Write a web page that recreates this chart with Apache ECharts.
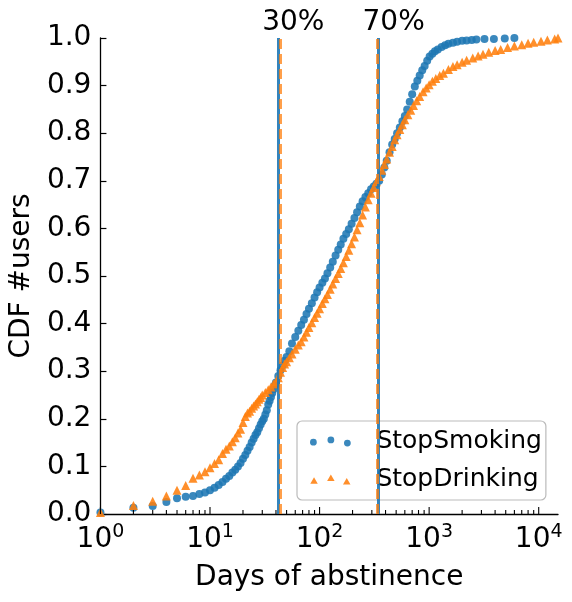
<!DOCTYPE html>
<html><head><meta charset="utf-8">
<script src="https://cdn.jsdelivr.net/npm/echarts@6/dist/echarts.min.js"></script>
<style>html,body{margin:0;padding:0;background:#fff}#c{width:572px;height:602px}</style>
</head><body><div id="c"></div>
<script>
const smokingDays = [1,2,3,4,5,6,7,8,9,10,11,12,13,14,15,16,17,18,19,20,21,22,23,24,25,26,27,28,29,30,31,32,33,34,35,36,37,38,39,40,42,44,46,48,50,53,56,60,64,68,72,76,80,85,90,95,100,106,112,118,125,132,140,148,156,165,175,185,196,208,220,233,247,262,278,295,312,330,350,370,390,410,435,460,485,510,540,570,600,630,665,700,740,780,820,865,910,960,1010,1070,1130,1200,1300,1400,1500,1650,1800,2000,2200,2450,2700,3200,3900,4900,6000];
const smokingCdf = [0.003,0.013,0.017,0.025,0.033,0.036,0.038,0.042,0.045,0.050,0.055,0.061,0.067,0.074,0.080,0.087,0.093,0.100,0.107,0.116,0.124,0.133,0.141,0.150,0.158,0.166,0.172,0.180,0.188,0.195,0.200,0.209,0.218,0.230,0.238,0.246,0.254,0.262,0.270,0.276,0.290,0.302,0.312,0.322,0.330,0.342,0.358,0.372,0.385,0.397,0.408,0.420,0.431,0.443,0.455,0.466,0.476,0.486,0.495,0.506,0.518,0.530,0.543,0.555,0.566,0.578,0.588,0.598,0.610,0.622,0.634,0.646,0.657,0.666,0.674,0.682,0.688,0.694,0.700,0.713,0.728,0.742,0.760,0.776,0.788,0.800,0.812,0.825,0.836,0.850,0.866,0.882,0.898,0.910,0.921,0.932,0.941,0.952,0.961,0.967,0.972,0.976,0.981,0.985,0.988,0.990,0.992,0.994,0.995,0.996,0.997,0.998,0.998,0.999,1.000];
const drinkingDays = [1,2,3,4,5,6,7,8,9,10,11,12,13,14,15,16,17,18,19,20,21,22,23,24,25,26,27,28,29,30,32,34,36,38,40,42,44,46,48,50,53,56,60,64,68,72,76,80,85,90,95,100,106,112,118,125,132,140,148,156,165,175,185,196,208,220,233,247,262,278,295,312,330,350,370,390,410,435,460,485,510,540,570,600,640,680,720,770,820,880,940,1000,1070,1150,1250,1350,1500,1650,1800,2000,2200,2500,2800,3100,3500,4000,4500,5200,6000,7000,8000,9000,10500,12000,14000,15000];
const drinkingCdf = [0.003,0.018,0.027,0.038,0.050,0.060,0.075,0.082,0.089,0.097,0.106,0.114,0.127,0.136,0.143,0.152,0.160,0.170,0.178,0.192,0.205,0.212,0.216,0.222,0.227,0.231,0.236,0.241,0.245,0.250,0.255,0.261,0.267,0.273,0.278,0.286,0.298,0.308,0.315,0.320,0.328,0.336,0.346,0.355,0.362,0.372,0.382,0.392,0.402,0.413,0.422,0.431,0.442,0.452,0.461,0.472,0.483,0.495,0.505,0.516,0.528,0.541,0.554,0.568,0.582,0.597,0.612,0.628,0.645,0.660,0.674,0.686,0.698,0.709,0.722,0.734,0.746,0.760,0.772,0.786,0.797,0.808,0.818,0.828,0.839,0.848,0.858,0.868,0.877,0.887,0.895,0.902,0.909,0.915,0.921,0.926,0.934,0.940,0.944,0.949,0.953,0.958,0.962,0.966,0.970,0.974,0.976,0.980,0.983,0.986,0.989,0.991,0.993,0.996,0.998,1.000];
const pct30 = {label:'30%', smoking:42, drinking:44};
const pct70 = {label:'70%', smoking:346, drinking:334};
const xMax = 15000;

const BLUE = '#1f77b4', ORANGE = '#ff7f0e';
const FONT = 'DejaVu Sans';
const xTicks = [];
for (let e = 0; e <= 4; e++) for (let m = 1; m <= 9; m++) { const v = m * Math.pow(10, e); if (v <= xMax) xTicks.push([v, m === 1 ? 1 : 0]); }

const zip = (a, b) => a.map((v, i) => [v, b[i]]);
const circlesPath = 'path://M0,5.8 a3.5,3.5 0 1,0 7,0 a3.5,3.5 0 1,0 -7,0 Z M18,3.5 a3.5,3.5 0 1,0 7,0 a3.5,3.5 0 1,0 -7,0 Z M35,6.8 a3.5,3.5 0 1,0 7,0 a3.5,3.5 0 1,0 -7,0 Z';
const triPath = 'path://M0,10 L4,3 L8,10 Z M18,7 L22,0 L26,7 Z M35,10.7 L39,3.7 L43,10.7 Z';

const chart = echarts.init(document.getElementById('c'), null, {renderer:'canvas'});
chart.setOption({
  animation: false,
  grid: {left: 98, right: 14, top: 38, bottom: 88},
  xAxis: {
    type: 'log', logBase: 10, min: 1, max: xMax,
    name: 'Days of abstinence', nameLocation: 'middle', nameGap: 50,
    nameTextStyle: {fontSize: 28, fontFamily: FONT, color: '#000'},
    axisLine: {lineStyle: {color: '#000', width: 1.3}},
    axisTick: {show: false},
    splitLine: {show: false},
    axisLabel: {
      margin: 9, color: '#000',
      formatter: function (v) {
        const e = Math.log10(v);
        if (Math.abs(e - Math.round(e)) > 1e-6) return '';
        return '{b|10}{s|' + Math.round(e) + '}';
      },
      rich: {
        b: {fontSize: 28, fontFamily: FONT, color: '#000', lineHeight: 33},
        s: {fontSize: 19, fontFamily: FONT, color: '#000', lineHeight: 19, verticalAlign: 'top'}
      }
    }
  },
  yAxis: {
    type: 'value', min: 0, max: 1, interval: 0.1,
    name: 'CDF #users', nameLocation: 'middle', nameGap: 53,
    nameTextStyle: {fontSize: 28, fontFamily: FONT, color: '#000'},
    axisLine: {show: true, lineStyle: {color: '#000', width: 1.3}},
    axisTick: {show: true, inside: true, length: 6, lineStyle: {color: '#000', width: 1.2}},
    splitLine: {show: false},
    axisLabel: {margin: 9, fontSize: 28, fontFamily: FONT, color: '#000', formatter: v => v.toFixed(1)}
  },
  legend: {
    orient: 'vertical', left: 297, top: 421, padding: [8, 4, 8, 13], itemGap: 13,
    itemWidth: 42, itemHeight: 10,
    borderColor: '#bbbbbb', borderWidth: 1.2, borderRadius: 5, backgroundColor: 'rgba(255,255,255,0.8)',
    textStyle: {fontSize: 25, fontFamily: FONT, color: '#000', padding: [0, 0, 0, 20]},
    data: [{name: 'StopSmoking', icon: circlesPath}, {name: 'StopDrinking', icon: triPath}]
  },
  series: [
    {
      name: 'StopSmoking', type: 'scatter', symbol: 'circle', symbolSize: 8,
      itemStyle: {color: BLUE, opacity: 0.88},
      data: zip(smokingDays, smokingCdf),
      markLine: {silent: true, symbol: 'none', label: {show: false},
        lineStyle: {color: BLUE, width: 3, type: 'solid', opacity: 0.9},
        data: [{xAxis: pct30.smoking}, {xAxis: pct70.smoking}]}
    },
    {
      name: 'StopDrinking', type: 'scatter', symbol: 'triangle', symbolSize: 9,
      itemStyle: {color: ORANGE, opacity: 0.88},
      data: zip(drinkingDays, drinkingCdf),
      markLine: {silent: true, symbol: 'none', label: {show: false},
        lineStyle: {color: ORANGE, width: 3, type: [10, 5], opacity: 0.75},
        data: [{xAxis: pct30.drinking}, {xAxis: pct70.drinking}]}
    },
    {
      name: 'ticks', type: 'custom', silent: true, z: 5,
      data: xTicks,
      renderItem: function (params, api) {
        const p = api.coord([api.value(0), 0]);
        const len = api.value(1) ? 7 : 4;
        return {type: 'line', shape: {x1: p[0], y1: p[1], x2: p[0], y2: p[1] - len}, style: {stroke: '#000', lineWidth: 1.1}};
      }
    }
  ]
});
const x30 = chart.convertToPixel({xAxisIndex: 0}, pct30.smoking);
const x70 = chart.convertToPixel({xAxisIndex: 0}, pct70.smoking);
chart.setOption({
  graphic: [
    {type: 'text', x: x30 + 15, y: 23, style: {text: pct30.label, font: '28px "DejaVu Sans"', fill: '#000', textAlign: 'center', textVerticalAlign: 'middle'}},
    {type: 'text', x: x70 + 15, y: 23, style: {text: pct70.label, font: '28px "DejaVu Sans"', fill: '#000', textAlign: 'center', textVerticalAlign: 'middle'}}
  ]
});
</script></body></html>
